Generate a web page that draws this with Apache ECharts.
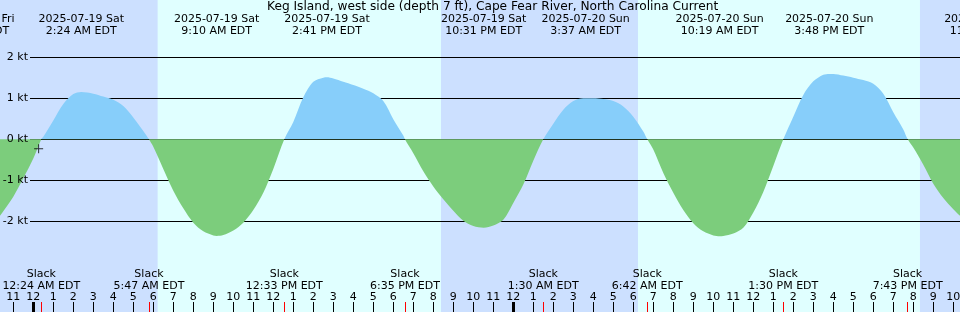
<!DOCTYPE html>
<html>
<head>
<meta charset="utf-8">
<script src="https://cdn.jsdelivr.net/npm/echarts@6/dist/echarts.min.js"></script>
<style>
html,body{margin:0;padding:0;background:#cce0ff;}
#c{width:960px;height:312px;}
</style>
</head>
<body>
<div id="c"></div>
<script>
// ---------------- data (times in hours after 2025-07-19 00:00 EDT) ----------------
const titleText = "Keg Island, west side (depth 7 ft), Cape Fear River, North Carolina Current";

const flowHours = [-3, -2.5, -2, -1.5, -1, -0.5, 0, 0.4, 0.5, 1, 1.5, 2, 2.4, 3, 3.5, 4, 4.5, 5, 5.5, 5.78,
  6, 6.5, 7, 7.5, 8, 8.5, 9, 9.17, 9.5, 10, 10.5, 11, 11.5, 12, 12.55,
  13, 13.5, 14, 14.5, 14.68, 15, 15.5, 16, 16.5, 17, 17.5, 18, 18.5, 18.58,
  19, 19.5, 20, 20.5, 21, 21.5, 22, 22.52, 23, 23.5, 24, 24.5, 25, 25.5,
  26, 26.5, 27, 27.5, 27.62, 28, 28.5, 29, 29.5, 30, 30.5, 30.7,
  31, 31.5, 32, 32.5, 33, 33.5, 34, 34.32, 34.5, 35, 35.5, 36, 36.5, 37, 37.5,
  38, 38.5, 39, 39.5, 39.8, 40, 40.5, 41, 41.5, 42, 42.5, 43, 43.5, 43.72,
  44, 44.5, 45, 45.5, 46, 46.5, 47];

const flowKnots = [-2.20, -2.16, -2.05, -1.75, -1.40, -0.95, -0.47, 0, 0.06, 0.46, 0.86, 1.10, 1.15, 1.11, 1.04, 0.96, 0.81, 0.53, 0.20, 0,
  -0.18, -0.72, -1.25, -1.68, -2.03, -2.24, -2.34, -2.35, -2.33, -2.22, -2.03, -1.72, -1.30, -0.72, 0,
  0.42, 1.02, 1.40, 1.50, 1.51, 1.48, 1.40, 1.32, 1.23, 1.12, 0.93, 0.49, 0.09, 0,
  -0.34, -0.78, -1.15, -1.46, -1.74, -1.98, -2.11, -2.15, -2.10, -1.96, -1.55, -1.10, -0.52, 0,
  0.38, 0.72, 0.93, 1.00, 1.00, 1.00, 0.98, 0.93, 0.80, 0.55, 0.19, 0,
  -0.25, -0.82, -1.30, -1.72, -2.04, -2.24, -2.34, -2.36, -2.35, -2.29, -2.15, -1.78, -1.28, -0.65, 0,
  0.55, 1.08, 1.41, 1.57, 1.59, 1.59, 1.55, 1.50, 1.44, 1.35, 1.11, 0.66, 0.24, 0,
  -0.20, -0.62, -1.08, -1.43, -1.70, -1.93, -2.08];

const gridKnots = [-2, -1, 0, 1, 2];

const hourTicks = [-1, 0, 1, 2, 3, 4, 5, 6, 7, 8, 9, 10, 11, 12, 13, 14, 15, 16, 17, 18, 19, 20, 21, 22, 23,
  24, 25, 26, 27, 28, 29, 30, 31, 32, 33, 34, 35, 36, 37, 38, 39, 40, 41, 42, 43, 44, 45, 46];

const midnightTimes = ["2025-07-19 00:00", "2025-07-20 00:00"];

const slackTimes = ["2025-07-19 00:24", "2025-07-19 05:47", "2025-07-19 12:33", "2025-07-19 18:35",
  "2025-07-20 01:30", "2025-07-20 06:42", "2025-07-20 13:30", "2025-07-20 19:43"];

const extremeTimes = ["2025-07-18 21:03", "2025-07-19 02:24", "2025-07-19 09:10", "2025-07-19 14:41",
  "2025-07-19 22:31", "2025-07-20 03:37", "2025-07-20 10:19", "2025-07-20 15:48", "2025-07-20 23:45"];

const daylight = [["2025-07-19 06:13", "2025-07-19 20:23"], ["2025-07-20 06:14", "2025-07-20 20:20"]];

const nowTime = "2025-07-19 00:16";
const nowKnots = -0.23;

// ---------------- helpers ----------------
const WEEKDAY = ["Sun", "Mon", "Tue", "Wed", "Thu", "Fri", "Sat"];
function toHours(s) {
  const [d, t] = s.split(" ");
  const day = +d.slice(8, 10);
  const [hh, mm] = t.split(":").map(Number);
  return (day - 19) * 24 + hh + mm / 60;
}
function clock(s) {
  const t = s.split(" ")[1];
  const [hh, mm] = t.split(":").map(Number);
  return (hh % 12 || 12) + ":" + String(mm).padStart(2, "0") + " " + (hh < 12 ? "AM" : "PM") + " EDT";
}
function dateLabel(s) {
  const d = s.split(" ")[0];
  const dt = new Date(Date.UTC(+d.slice(0, 4), +d.slice(5, 7) - 1, +d.slice(8, 10)));
  return d + " " + WEEKDAY[dt.getUTCDay()];
}
const slackHours = slackTimes.map(toHours);
const extremeHours = extremeTimes.map(toHours);
const midnightHours = midnightTimes.map(toHours);
function findIdx(arr, v) {
  let best = 0;
  arr.forEach((h, i) => { if (Math.abs(h - v) < Math.abs(arr[best] - v)) best = i; });
  return best;
}

// ---------------- style / layout ----------------
const FONT = "DejaVu Sans";
const NIGHT = "#cce0ff", DAY = "#e0ffff", FLOOD = "#87cefa", EBB = "#7ccd7c";
const X_MIN = -1.665, X_MAX = 46.335, EXT = 10;
const Y_MIN = -4.202, Y_MAX = 3.389;
const GRID_START = -0.165;
const txt = { fontFamily: FONT, fontSize: 11, color: "#000", lineHeight: 12 };
const noLine = { show: false, onZero: false };

const hiddenY = (gi) => ({ gridIndex: gi, type: "value", min: Y_MIN, max: Y_MAX, show: false,
  splitLine: { show: false }, axisLine: noLine, axisTick: { show: false }, axisLabel: { show: false } });

const gridLineData = gridKnots.map((v) => [{ coord: [GRID_START, v], value: v }, { coord: [X_MAX, v] }]);

const option = {
  animation: false,
  backgroundColor: NIGHT,
  title: {
    text: titleText, left: 267, top: 1, padding: 0,
    textStyle: { fontFamily: FONT, fontSize: 12.2, fontWeight: "normal", color: "#000", lineHeight: 12 }
  },
  grid: [
    { left: 0, right: 0, top: 0, bottom: 0, containLabel: false, outerBoundsMode: "none" },
    { left: -200, right: -200, top: 0, bottom: 0, containLabel: false, outerBoundsMode: "none" },
    { left: 0, right: 0, top: 0, bottom: 0, containLabel: false, outerBoundsMode: "none" }
  ],
  xAxis: [
    { gridIndex: 0, type: "value", position: "bottom", min: X_MIN, max: X_MAX, z: 4,
      axisLine: noLine, splitLine: { show: false },
      axisTick: { show: true, inside: true, length: 10, customValues: hourTicks, lineStyle: { color: "#000", width: 1 } },
      axisLabel: Object.assign({ show: true, inside: true, margin: 9, customValues: hourTicks,
        formatter: (v) => { const hh = ((Math.round(v) % 24) + 24) % 24; return String(hh % 12 || 12); } }, txt) },
    { gridIndex: 1, type: "value", position: "top", min: X_MIN - EXT, max: X_MAX + EXT, z: 4,
      axisLine: noLine, splitLine: { show: false }, axisTick: { show: false },
      axisLabel: Object.assign({ show: true, inside: true, margin: 13, customValues: extremeHours,
        formatter: (v) => { const s = extremeTimes[findIdx(extremeHours, v)]; return dateLabel(s) + "\n" + clock(s); } }, txt) },
    { gridIndex: 1, type: "value", position: "bottom", min: X_MIN - EXT, max: X_MAX + EXT, z: 5,
      axisLine: noLine, splitLine: { show: false }, axisLabel: { show: false },
      axisTick: { show: true, inside: true, length: 10, customValues: midnightHours, lineStyle: { color: "#000", width: 3 } } },
    { gridIndex: 2, type: "value", position: "bottom", min: X_MIN, max: X_MAX, z: 6,
      axisLine: noLine, splitLine: { show: false },
      axisTick: { show: true, inside: true, length: 10, customValues: slackHours, lineStyle: { color: "#ff0000", width: 1 } },
      axisLabel: Object.assign({ show: true, inside: true, margin: 20, customValues: slackHours,
        formatter: (v) => "Slack\n" + clock(slackTimes[findIdx(slackHours, v)]) }, txt) }
  ],
  yAxis: [hiddenY(0), hiddenY(1), hiddenY(2)],
  visualMap: {
    type: "piecewise", show: false, seriesIndex: 0, dimension: 1,
    pieces: [{ gte: -10, lt: 0, color: EBB }, { gte: 0, lte: 10, color: FLOOD }],
    outOfRange: { color: EBB }
  },
  series: [
    {
      type: "line", xAxisIndex: 0, yAxisIndex: 0, z: 2, silent: true,
      data: flowHours.map((h, i) => [h, flowKnots[i]]),
      smooth: 0.3, showSymbol: false,
      lineStyle: { width: 0 },
      areaStyle: { opacity: 1 },
      markArea: {
        silent: true, z: 0, itemStyle: { color: DAY },
        data: daylight.map(([a, b]) => [{ xAxis: toHours(a) }, { xAxis: toHours(b) }])
      },
      markLine: {
        silent: true, z: 1, symbol: ["none", "none"], animation: false,
        lineStyle: { color: "#000", width: 1, type: "solid" },
        label: { show: false },
        emphasis: { disabled: true },
        data: gridLineData
      }
    },
    {
      type: "scatter", xAxisIndex: 0, yAxisIndex: 0, z: 3, silent: true,
      data: [[toHours(nowTime), nowKnots]],
      symbol: "path://M4,0h1v9h-1zM0,4h9v1h-9z", symbolSize: 9,
      itemStyle: { color: "#000" },
      markLine: {
        silent: true, z: 6, symbol: ["none", "none"], animation: false,
        lineStyle: { color: "rgba(0,0,0,0)", width: 1, opacity: 1 },
        label: { show: true, position: "start", distance: 2, formatter: (p) => p.value + " kt",
          fontFamily: FONT, fontSize: 11, color: "#000", opacity: 1 },
        emphasis: { disabled: true },
        data: gridLineData
      }
    }
  ]
};

const chart = echarts.init(document.getElementById("c"), null, { renderer: "canvas" });
chart.setOption(option);
</script>
</body>
</html>
